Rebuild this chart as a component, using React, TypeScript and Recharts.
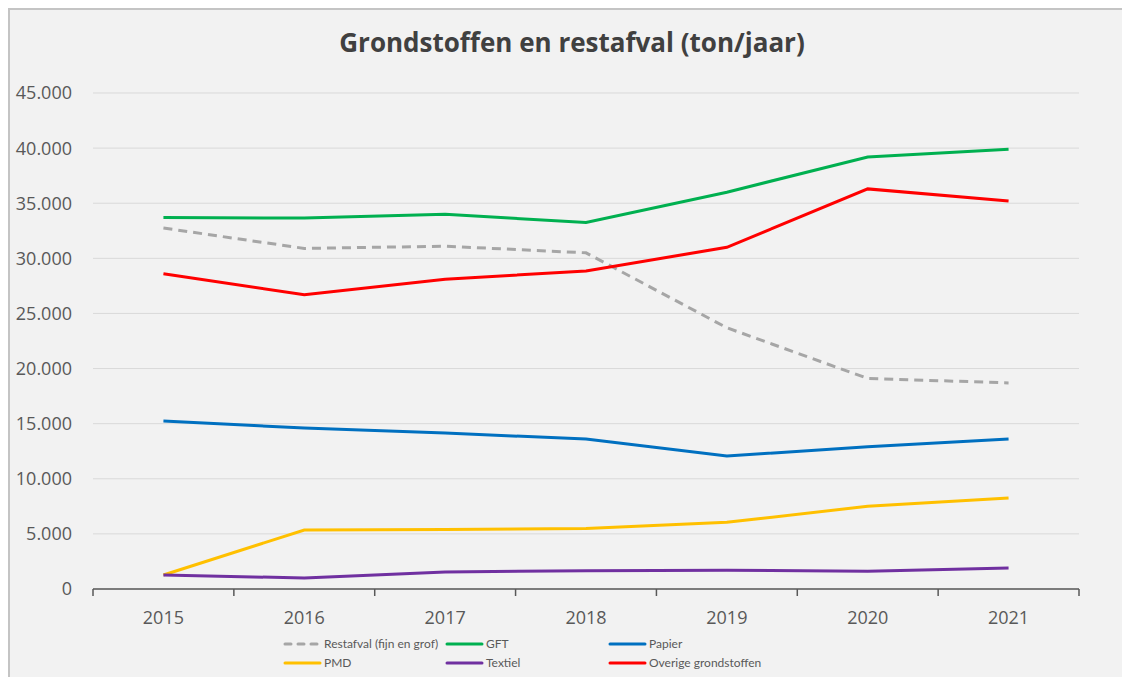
import React from "react";
import {
  LineChart,
  Line,
  XAxis,
  YAxis,
  CartesianGrid,
  Legend,
} from "recharts";

const years = [2015, 2016, 2017, 2018, 2019, 2020, 2021];
const restafval = [32750, 30900, 31100, 30500, 23700, 19100, 18700];
const gft = [33700, 33650, 34000, 33250, 36000, 39200, 39900];
const papier = [15250, 14600, 14150, 13600, 12070, 12900, 13600];
const pmd = [1270, 5350, 5400, 5500, 6050, 7500, 8250];
const textiel = [1270, 1000, 1550, 1650, 1700, 1600, 1900];
const overige = [28600, 26700, 28100, 28850, 31000, 36300, 35200];
const yTicks = [0, 5000, 10000, 15000, 20000, 25000, 30000, 35000, 40000, 45000];

const seriesNames = [
  "Restafval (fijn en grof)",
  "GFT",
  "Papier",
  "PMD",
  "Textiel",
  "Overige grondstoffen",
];
const seriesKeys = ["restafval", "gft", "papier", "pmd", "textiel", "overige"];
const seriesColors = ["#A6A6A6", "#00B050", "#0070C0", "#FFC000", "#7030A0", "#FF0000"];
const seriesData = [restafval, gft, papier, pmd, textiel, overige];

const data = years.map((year, i) => {
  const row: Record<string, number> = { year };
  seriesKeys.forEach((k, s) => {
    row[k] = seriesData[s][i];
  });
  return row;
});

// tick positions: category centers (labels) and boundaries (tick marks)
const xTicks: number[] = [];
years.forEach((y, i) => {
  xTicks.push(y - 0.5);
  xTicks.push(y);
  if (i === years.length - 1) xTicks.push(y + 0.5);
});

const fmt = (v: number) => String(v).replace(/\B(?=(\d{3})+(?!\d))/g, ".");

const FONT = "'Open Sans', sans-serif";

const XTick = (props: any) => {
  const { x, y, payload } = props;
  const v = payload.value as number;
  if (Number.isInteger(v)) {
    return (
      <text
        x={x}
        y={y + 35}
        textAnchor="middle"
        fill="#595959"
        fontSize={18}
        fontFamily={FONT}
      >
        {v}
      </text>
    );
  }
  return <line x1={x} x2={x} y1={y} y2={y + 7} stroke="#595959" strokeWidth={1.5} />;
};

const LegendContent = () => {
  return (
    <div
      style={{
        display: "grid",
        gridTemplateColumns: "162px 163px 240px",
        gridAutoRows: "19px",
        fontFamily: "Lato, sans-serif",
        fontSize: 12,
        color: "#595959",
        height: 38,
        whiteSpace: "nowrap",
      }}
    >
      {seriesNames.map((name, i) => (
        <div key={name} style={{ display: "flex", alignItems: "center", height: 19 }}>
          <svg width={40} height={10} style={{ marginRight: 1, flex: "none" }}>
            <line
              x1={2}
              x2={37}
              y1={5}
              y2={5}
              stroke={seriesColors[i]}
              strokeWidth={3}
              strokeLinecap="round"
              strokeDasharray={i === 0 ? "6 7" : undefined}
            />
          </svg>
          <span>{name}</span>
        </div>
      ))}
    </div>
  );
};

export default function App() {
  return (
    <div
      style={{
        position: "fixed",
        left: 8,
        top: 8,
        width: 1114,
        height: 669,
        background: "#F2F2F2",
        borderTop: "2px solid #C4C4C4",
        borderLeft: "2px solid #C4C4C4",
        boxSizing: "border-box",
        overflow: "hidden",
      }}
    >
      <div
        style={{
          position: "absolute",
          left: 0,
          width: 1112,
          top: 14,
          textAlign: "center",
          fontFamily: FONT,
          fontWeight: 700,
          fontSize: 26,
          color: "#404040",
          paddingLeft: 12,
          boxSizing: "border-box",
        }}
      >
        Grondstoffen en restafval (ton/jaar)
      </div>
      <LineChart
        width={1112}
        height={667}
        data={data}
        margin={{ top: 83, right: 43, left: 0, bottom: 10 }}
      >
        <CartesianGrid vertical={false} stroke="#D9D9D9" strokeWidth={1} />
        <XAxis
          dataKey="year"
          type="number"
          domain={[years[0] - 0.5, years[years.length - 1] + 0.5]}
          ticks={xTicks}
          interval={0}
          tick={<XTick />}
          tickLine={false}
          tickSize={0}
          tickMargin={0}
          axisLine={{ stroke: "#595959", strokeWidth: 1.5 }}
          height={40}
        />
        <YAxis
          domain={[0, 45000]}
          ticks={yTicks}
          interval={0}
          tickFormatter={fmt}
          axisLine={false}
          tickLine={false}
          tickSize={0}
          tickMargin={21}
          width={83}
          tick={{ fill: "#595959", fontSize: 18, fontFamily: FONT }}
        />
        <Legend
          verticalAlign="bottom"
          content={<LegendContent />}
          wrapperStyle={{ left: 273, top: 624, width: 600, height: 38 }}
        />
        {seriesKeys.map((k, i) => (
          <Line
            key={k}
            type="linear"
            dataKey={k}
            name={seriesNames[i]}
            stroke={seriesColors[i]}
            strokeWidth={3}
            strokeDasharray={i === 0 ? "9 6" : undefined}
            dot={false}
            activeDot={false}
            isAnimationActive={false}
          />
        ))}
      </LineChart>
    </div>
  );
}
